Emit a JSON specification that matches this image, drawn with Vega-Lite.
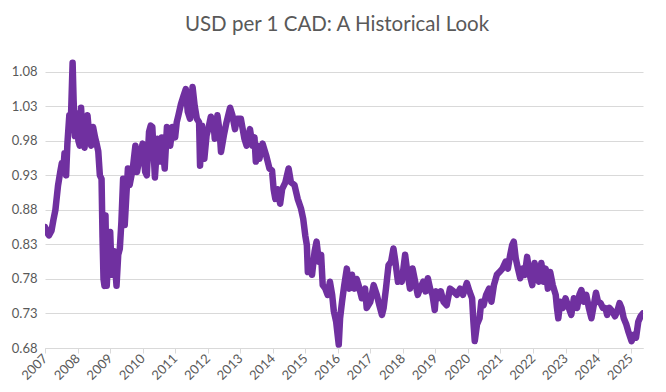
{
  "$schema": "https://vega.github.io/schema/vega-lite/v6.json",
  "autosize": {"type": "none"},
  "width": 598,
  "height": 290,
  "padding": {"left": 45, "top": 58, "right": 23, "bottom": 44},
  "background": "white",
  "title": {
    "text": "USD per 1 CAD: A Historical Look",
    "font": "Lato",
    "fontSize": 20.5,
    "fontWeight": "normal",
    "color": "#595959",
    "anchor": "middle",
    "dx": -7,
    "offset": 23
  },
  "config": {"view": {"stroke": null}},
  "data": {
    "values": [
      {"date": "2007-01-02", "rate": 0.855},
      {"date": "2007-01-23", "rate": 0.848},
      {"date": "2007-02-14", "rate": 0.843},
      {"date": "2007-03-15", "rate": 0.850},
      {"date": "2007-04-06", "rate": 0.866},
      {"date": "2007-04-28", "rate": 0.880},
      {"date": "2007-05-27", "rate": 0.915},
      {"date": "2007-06-21", "rate": 0.935},
      {"date": "2007-07-09", "rate": 0.948},
      {"date": "2007-07-24", "rate": 0.935},
      {"date": "2007-08-08", "rate": 0.962},
      {"date": "2007-08-26", "rate": 0.930},
      {"date": "2007-09-09", "rate": 0.975},
      {"date": "2007-10-01", "rate": 1.017},
      {"date": "2007-10-15", "rate": 0.995},
      {"date": "2007-11-07", "rate": 1.093},
      {"date": "2007-11-18", "rate": 1.040},
      {"date": "2007-12-02", "rate": 0.987},
      {"date": "2007-12-20", "rate": 1.020},
      {"date": "2008-01-11", "rate": 0.980},
      {"date": "2008-01-26", "rate": 0.973},
      {"date": "2008-02-10", "rate": 1.028},
      {"date": "2008-02-28", "rate": 0.985},
      {"date": "2008-03-20", "rate": 0.970},
      {"date": "2008-04-08", "rate": 1.000},
      {"date": "2008-04-22", "rate": 1.017},
      {"date": "2008-05-18", "rate": 0.980},
      {"date": "2008-06-02", "rate": 0.973},
      {"date": "2008-06-24", "rate": 1.000},
      {"date": "2008-07-16", "rate": 0.985},
      {"date": "2008-07-30", "rate": 0.978},
      {"date": "2008-08-21", "rate": 0.965},
      {"date": "2008-09-08", "rate": 0.930},
      {"date": "2008-09-27", "rate": 0.925},
      {"date": "2008-10-08", "rate": 0.840},
      {"date": "2008-10-19", "rate": 0.780},
      {"date": "2008-10-30", "rate": 0.770},
      {"date": "2008-11-10", "rate": 0.872},
      {"date": "2008-11-24", "rate": 0.770},
      {"date": "2008-12-12", "rate": 0.815},
      {"date": "2009-01-02", "rate": 0.848},
      {"date": "2009-01-19", "rate": 0.786},
      {"date": "2009-02-14", "rate": 0.820},
      {"date": "2009-03-14", "rate": 0.770},
      {"date": "2009-04-02", "rate": 0.815},
      {"date": "2009-04-20", "rate": 0.824},
      {"date": "2009-05-08", "rate": 0.863},
      {"date": "2009-05-27", "rate": 0.925},
      {"date": "2009-06-14", "rate": 0.858},
      {"date": "2009-07-02", "rate": 0.900},
      {"date": "2009-07-20", "rate": 0.940},
      {"date": "2009-08-08", "rate": 0.916},
      {"date": "2009-09-13", "rate": 0.940},
      {"date": "2009-10-12", "rate": 0.973},
      {"date": "2009-10-30", "rate": 0.935},
      {"date": "2009-11-25", "rate": 0.954},
      {"date": "2010-01-01", "rate": 0.976},
      {"date": "2010-01-30", "rate": 0.935},
      {"date": "2010-02-17", "rate": 0.930},
      {"date": "2010-03-14", "rate": 0.993},
      {"date": "2010-04-02", "rate": 1.002},
      {"date": "2010-04-20", "rate": 1.000},
      {"date": "2010-05-19", "rate": 0.927},
      {"date": "2010-06-17", "rate": 0.983},
      {"date": "2010-07-16", "rate": 0.950},
      {"date": "2010-08-04", "rate": 0.985},
      {"date": "2010-09-06", "rate": 0.940},
      {"date": "2010-10-01", "rate": 1.000},
      {"date": "2010-11-07", "rate": 0.973},
      {"date": "2010-12-02", "rate": 1.000},
      {"date": "2011-01-01", "rate": 0.985},
      {"date": "2011-01-19", "rate": 1.007},
      {"date": "2011-02-07", "rate": 1.017},
      {"date": "2011-03-07", "rate": 1.033},
      {"date": "2011-04-05", "rate": 1.045},
      {"date": "2011-05-01", "rate": 1.055},
      {"date": "2011-05-23", "rate": 1.022},
      {"date": "2011-06-17", "rate": 1.012},
      {"date": "2011-07-16", "rate": 1.058},
      {"date": "2011-08-08", "rate": 1.031},
      {"date": "2011-09-02", "rate": 1.012},
      {"date": "2011-09-27", "rate": 1.007},
      {"date": "2011-10-08", "rate": 0.944},
      {"date": "2011-10-30", "rate": 1.002},
      {"date": "2011-11-25", "rate": 0.954},
      {"date": "2011-12-20", "rate": 0.988},
      {"date": "2012-01-08", "rate": 0.997},
      {"date": "2012-02-06", "rate": 1.015},
      {"date": "2012-03-07", "rate": 1.007},
      {"date": "2012-03-21", "rate": 0.983},
      {"date": "2012-04-20", "rate": 1.017},
      {"date": "2012-05-15", "rate": 0.993},
      {"date": "2012-05-30", "rate": 0.964},
      {"date": "2012-07-01", "rate": 0.988},
      {"date": "2012-07-31", "rate": 1.007},
      {"date": "2012-09-09", "rate": 1.028},
      {"date": "2012-10-05", "rate": 1.017},
      {"date": "2012-11-03", "rate": 0.997},
      {"date": "2012-11-25", "rate": 1.012},
      {"date": "2013-01-08", "rate": 1.012},
      {"date": "2013-02-17", "rate": 0.983},
      {"date": "2013-03-14", "rate": 0.973},
      {"date": "2013-04-20", "rate": 0.997},
      {"date": "2013-05-19", "rate": 0.973},
      {"date": "2013-06-10", "rate": 0.985},
      {"date": "2013-06-25", "rate": 0.950},
      {"date": "2013-07-16", "rate": 0.973},
      {"date": "2013-08-04", "rate": 0.954},
      {"date": "2013-09-09", "rate": 0.976},
      {"date": "2013-10-19", "rate": 0.959},
      {"date": "2013-11-25", "rate": 0.940},
      {"date": "2013-12-24", "rate": 0.937},
      {"date": "2014-01-11", "rate": 0.910},
      {"date": "2014-01-30", "rate": 0.896},
      {"date": "2014-02-24", "rate": 0.910},
      {"date": "2014-03-25", "rate": 0.889},
      {"date": "2014-04-16", "rate": 0.910},
      {"date": "2014-05-23", "rate": 0.920},
      {"date": "2014-06-28", "rate": 0.940},
      {"date": "2014-07-24", "rate": 0.920},
      {"date": "2014-09-02", "rate": 0.916},
      {"date": "2014-10-08", "rate": 0.896},
      {"date": "2014-11-14", "rate": 0.882},
      {"date": "2014-12-09", "rate": 0.867},
      {"date": "2015-01-01", "rate": 0.843},
      {"date": "2015-01-19", "rate": 0.829},
      {"date": "2015-01-30", "rate": 0.790},
      {"date": "2015-02-24", "rate": 0.805},
      {"date": "2015-03-18", "rate": 0.786},
      {"date": "2015-04-16", "rate": 0.820},
      {"date": "2015-05-08", "rate": 0.834},
      {"date": "2015-06-03", "rate": 0.805},
      {"date": "2015-06-28", "rate": 0.815},
      {"date": "2015-07-16", "rate": 0.771},
      {"date": "2015-08-14", "rate": 0.766},
      {"date": "2015-09-09", "rate": 0.757},
      {"date": "2015-10-05", "rate": 0.776},
      {"date": "2015-10-30", "rate": 0.757},
      {"date": "2015-11-18", "rate": 0.733},
      {"date": "2015-12-14", "rate": 0.718},
      {"date": "2016-01-12", "rate": 0.685},
      {"date": "2016-01-27", "rate": 0.723},
      {"date": "2016-02-18", "rate": 0.747},
      {"date": "2016-03-14", "rate": 0.771},
      {"date": "2016-04-12", "rate": 0.795},
      {"date": "2016-05-11", "rate": 0.766},
      {"date": "2016-06-09", "rate": 0.786},
      {"date": "2016-07-05", "rate": 0.766},
      {"date": "2016-07-31", "rate": 0.780},
      {"date": "2016-08-22", "rate": 0.771},
      {"date": "2016-09-27", "rate": 0.752},
      {"date": "2016-11-03", "rate": 0.766},
      {"date": "2016-11-21", "rate": 0.738},
      {"date": "2017-01-01", "rate": 0.747},
      {"date": "2017-02-07", "rate": 0.771},
      {"date": "2017-03-14", "rate": 0.757},
      {"date": "2017-04-12", "rate": 0.742},
      {"date": "2017-05-11", "rate": 0.728},
      {"date": "2017-05-30", "rate": 0.738},
      {"date": "2017-06-25", "rate": 0.766},
      {"date": "2017-07-24", "rate": 0.800},
      {"date": "2017-08-22", "rate": 0.805},
      {"date": "2017-09-17", "rate": 0.824},
      {"date": "2017-10-09", "rate": 0.805},
      {"date": "2017-11-07", "rate": 0.776},
      {"date": "2017-12-02", "rate": 0.786},
      {"date": "2017-12-20", "rate": 0.776},
      {"date": "2018-01-26", "rate": 0.815},
      {"date": "2018-02-24", "rate": 0.786},
      {"date": "2018-03-22", "rate": 0.766},
      {"date": "2018-04-20", "rate": 0.795},
      {"date": "2018-05-19", "rate": 0.776},
      {"date": "2018-06-17", "rate": 0.757},
      {"date": "2018-07-13", "rate": 0.766},
      {"date": "2018-08-18", "rate": 0.776},
      {"date": "2018-09-13", "rate": 0.762},
      {"date": "2018-10-08", "rate": 0.781},
      {"date": "2018-11-03", "rate": 0.766},
      {"date": "2018-11-29", "rate": 0.757},
      {"date": "2018-12-25", "rate": 0.735},
      {"date": "2019-01-11", "rate": 0.762},
      {"date": "2019-02-07", "rate": 0.752},
      {"date": "2019-03-03", "rate": 0.762},
      {"date": "2019-04-02", "rate": 0.747},
      {"date": "2019-05-08", "rate": 0.742},
      {"date": "2019-06-14", "rate": 0.766},
      {"date": "2019-07-24", "rate": 0.762},
      {"date": "2019-08-30", "rate": 0.757},
      {"date": "2019-10-05", "rate": 0.766},
      {"date": "2019-11-07", "rate": 0.757},
      {"date": "2019-12-20", "rate": 0.774},
      {"date": "2020-01-19", "rate": 0.762},
      {"date": "2020-02-17", "rate": 0.752},
      {"date": "2020-03-03", "rate": 0.718},
      {"date": "2020-03-18", "rate": 0.690},
      {"date": "2020-04-12", "rate": 0.714},
      {"date": "2020-05-11", "rate": 0.723},
      {"date": "2020-05-30", "rate": 0.747},
      {"date": "2020-06-25", "rate": 0.742},
      {"date": "2020-07-24", "rate": 0.757},
      {"date": "2020-08-26", "rate": 0.766},
      {"date": "2020-09-21", "rate": 0.747},
      {"date": "2020-10-19", "rate": 0.771},
      {"date": "2020-11-21", "rate": 0.786},
      {"date": "2020-12-20", "rate": 0.790},
      {"date": "2021-01-23", "rate": 0.795},
      {"date": "2021-02-28", "rate": 0.805},
      {"date": "2021-03-25", "rate": 0.795},
      {"date": "2021-04-20", "rate": 0.815},
      {"date": "2021-05-12", "rate": 0.829},
      {"date": "2021-05-30", "rate": 0.834},
      {"date": "2021-06-21", "rate": 0.810},
      {"date": "2021-07-16", "rate": 0.795},
      {"date": "2021-08-11", "rate": 0.781},
      {"date": "2021-09-09", "rate": 0.795},
      {"date": "2021-10-01", "rate": 0.786},
      {"date": "2021-10-27", "rate": 0.812},
      {"date": "2021-11-25", "rate": 0.786},
      {"date": "2021-12-24", "rate": 0.771},
      {"date": "2022-01-19", "rate": 0.803},
      {"date": "2022-02-14", "rate": 0.786},
      {"date": "2022-03-07", "rate": 0.776},
      {"date": "2022-04-05", "rate": 0.803},
      {"date": "2022-05-01", "rate": 0.776},
      {"date": "2022-05-23", "rate": 0.795},
      {"date": "2022-06-17", "rate": 0.766},
      {"date": "2022-07-13", "rate": 0.790},
      {"date": "2022-08-11", "rate": 0.771},
      {"date": "2022-09-13", "rate": 0.757},
      {"date": "2022-09-27", "rate": 0.738},
      {"date": "2022-10-12", "rate": 0.723},
      {"date": "2022-11-03", "rate": 0.747},
      {"date": "2022-12-02", "rate": 0.738},
      {"date": "2023-01-01", "rate": 0.752},
      {"date": "2023-02-07", "rate": 0.738},
      {"date": "2023-03-07", "rate": 0.728},
      {"date": "2023-04-05", "rate": 0.752},
      {"date": "2023-05-11", "rate": 0.738},
      {"date": "2023-06-06", "rate": 0.757},
      {"date": "2023-06-28", "rate": 0.764},
      {"date": "2023-07-24", "rate": 0.747},
      {"date": "2023-08-22", "rate": 0.757},
      {"date": "2023-09-20", "rate": 0.738},
      {"date": "2023-10-19", "rate": 0.723},
      {"date": "2023-11-14", "rate": 0.742},
      {"date": "2023-12-09", "rate": 0.760},
      {"date": "2024-01-01", "rate": 0.747},
      {"date": "2024-01-30", "rate": 0.745},
      {"date": "2024-02-24", "rate": 0.738},
      {"date": "2024-03-25", "rate": 0.738},
      {"date": "2024-04-12", "rate": 0.728},
      {"date": "2024-05-08", "rate": 0.738},
      {"date": "2024-06-10", "rate": 0.733},
      {"date": "2024-07-09", "rate": 0.726},
      {"date": "2024-08-04", "rate": 0.733},
      {"date": "2024-08-30", "rate": 0.745},
      {"date": "2024-09-21", "rate": 0.738},
      {"date": "2024-10-16", "rate": 0.723},
      {"date": "2024-11-14", "rate": 0.714},
      {"date": "2024-12-06", "rate": 0.704},
      {"date": "2025-01-12", "rate": 0.690},
      {"date": "2025-02-07", "rate": 0.699},
      {"date": "2025-03-03", "rate": 0.695},
      {"date": "2025-03-28", "rate": 0.718},
      {"date": "2025-04-23", "rate": 0.726},
      {"date": "2025-05-18", "rate": 0.730}
    ]
  },
  "mark": {"type": "line", "color": "#7030A0", "strokeWidth": 6.5, "strokeJoin": "round", "strokeCap": "round", "clip": true},
  "encoding": {
    "x": {
      "field": "date",
      "type": "temporal",
      "scale": {"domain": ["2007-01-01", "2025-05-20"]},
      "axis": {
        "title": null,
        "format": "%Y",
        "tickCount": {"interval": "year", "step": 1},
        "grid": false,
        "domainColor": "#d9d9d9",
        "tickColor": "#d9d9d9",
        "tickSize": 5,
        "labelAngle": -45,
        "labelAlign": "right",
        "labelBaseline": "middle",
        "labelPadding": 3,
        "labelFont": "Lato",
        "labelFontSize": 13,
        "labelColor": "#595959",
        "labelOverlap": false,
        "labelFlush": false
      }
    },
    "y": {
      "field": "rate",
      "type": "quantitative",
      "scale": {"domain": [0.68, 1.1], "zero": false, "nice": false},
      "axis": {
        "title": null,
        "values": [0.68, 0.73, 0.78, 0.83, 0.88, 0.93, 0.98, 1.03, 1.08],
        "format": ".2f",
        "domain": false,
        "ticks": false,
        "gridColor": "#d9d9d9",
        "gridWidth": 1,
        "labelPadding": 8,
        "labelFont": "Lato",
        "labelFontSize": 13,
        "labelColor": "#595959"
      }
    }
  }
}
